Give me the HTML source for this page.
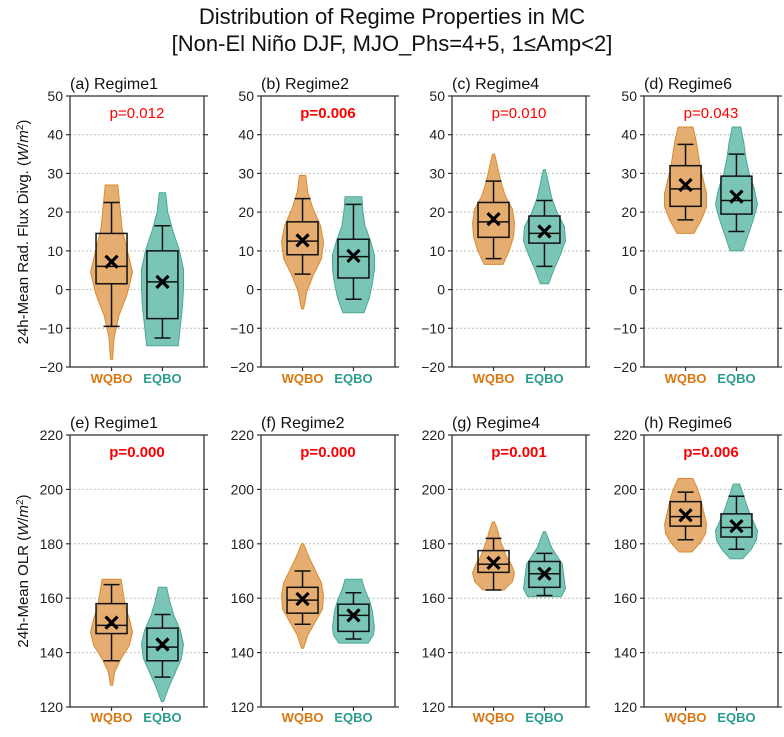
<!DOCTYPE html>
<html><head><meta charset="utf-8"><style>
body{margin:0;background:#fff;}
svg text{font-family:"Liberation Sans","DejaVu Sans",sans-serif;}
</style></head><body>
<svg id="chart" width="784" height="732" xmlns="http://www.w3.org/2000/svg">
<text x="392" y="24" text-anchor="middle" font-size="22" fill="#111">Distribution of Regime Properties in MC</text>
<text x="392" y="51" text-anchor="middle" font-size="22" fill="#111">[Non-El Niño DJF, MJO_Phs=4+5, 1≤Amp&lt;2]</text>
<text transform="translate(28,232) rotate(-90)" text-anchor="middle" font-size="15" fill="#111">24h-Mean Rad. Flux Divg. (<tspan font-style="italic">W</tspan>/<tspan font-style="italic">m</tspan><tspan baseline-shift="super" font-size="10">2</tspan>)</text>
<text transform="translate(28,571) rotate(-90)" text-anchor="middle" font-size="15" fill="#111">24h-Mean OLR (<tspan font-style="italic">W</tspan>/<tspan font-style="italic">m</tspan><tspan baseline-shift="super" font-size="10">2</tspan>)</text>
</svg>
<script>
const panelTitles=["(a) Regime1","(b) Regime2","(c) Regime4","(d) Regime6","(e) Regime1","(f) Regime2","(g) Regime4","(h) Regime6"];
const pValues=["p=0.012","p=0.006","p=0.010","p=0.043","p=0.000","p=0.000","p=0.001","p=0.006"];
const pBold=[false,true,false,false,true,true,true,true];
const groups=["WQBO","EQBO"];
const topTicks=[-20,-10,0,10,20,30,40,50];
const botTicks=[120,140,160,180,200,220];
// [whiskerLow, q1, median, q3, whiskerHigh, mean, violinMin, violinMax]
const wqboStats=[
[-9.5,1.5,6,14.5,22.5,7.2,-18,27],[4,9,12.5,17.5,23.5,12.7,-5,29.5],[8,13.5,17.5,22.5,28,18.2,6.5,35],[18,21.5,26,32,37.5,27,14.5,42],
[137,147,150,158,165,151,128,167],[150.4,154.5,159.3,164,170,159.7,141.6,180],[163,169.5,172.5,177.5,182,173,163,188],[181.5,186.5,190,195.5,199,190.5,177,204]];
const eqboStats=[
[-12.5,-7.5,2,10,16.5,2,-14.5,25],[-2.5,3,8.5,13,22,8.7,-6,24],[6,12,14.5,19,23,15,1.5,31],[15,19.5,23,29.3,35,24,10,42],
[131,137,142,149,154,143,122,164],[145,147.8,153.7,157.8,162,153.7,143.5,167],[161,164,169,173.5,176.5,169,160.5,184.5],[178,182.5,186,191,197.5,186.5,174.5,202]];
// violin density profiles (relative half-width) from min to max
const wqboProfiles=[
[0.05,0.12,0.35,0.75,1.0,0.75,0.5,0.4,0.3],[0.05,0.2,0.5,0.9,1.0,0.85,0.5,0.25,0.15],[0.45,0.75,0.95,1.0,0.9,0.55,0.35,0.2,0.05],[0.4,0.75,1.0,1.0,0.85,0.7,0.6,0.5,0.35],
[0.05,0.15,0.45,0.85,1.0,0.85,0.65,0.55,0.45],[0.05,0.25,0.6,0.95,1.0,0.9,0.6,0.3,0.05],[0.5,0.9,1.0,0.85,0.6,0.45,0.3,0.2,0.05],[0.3,0.7,0.95,1.0,0.9,0.8,0.7,0.55,0.35]];
const eqboProfiles=[
[0.75,0.85,0.95,1.0,1.0,0.8,0.5,0.25,0.15],[0.5,0.75,0.9,1.0,1.0,0.8,0.55,0.45,0.4],[0.2,0.45,0.75,1.0,0.95,0.6,0.35,0.2,0.05],[0.3,0.55,0.8,1.0,0.85,0.6,0.45,0.35,0.2],
[0.05,0.3,0.6,0.9,1.0,0.85,0.55,0.35,0.2],[0.7,0.95,1.0,0.95,0.9,0.8,0.65,0.5,0.4],[0.8,1.0,0.95,0.9,0.85,0.6,0.35,0.2,0.05],[0.3,0.7,0.95,1.0,0.8,0.6,0.45,0.3,0.15]];

const svg=document.getElementById('chart');
const NS='http://www.w3.org/2000/svg';
function mk(tag,attrs,parent){const e=document.createElementNS(NS,tag);for(const k in attrs)e.setAttribute(k,attrs[k]);(parent||svg).appendChild(e);return e;}
const lefts=[70,261,452,644], W=134;
const rows=[{top:96,bot:367,min:-20,max:50,ticks:topTicks,lab:383},{top:435,bot:707,min:120,max:220,ticks:botTicks,lab:722}];
const fills=["#e2a460","#6dbfae"], edges=["#d98b30","#4aa896"], labCol=["#d9770f","#2a9d8a"];
const MAXHW=21;
for(let p=0;p<8;p++){
  const r=rows[Math.floor(p/4)], L=lefts[p%4];
  const y=v=>r.bot-(v-r.min)/(r.max-r.min)*(r.bot-r.top);
  const xpos=i=>L+W*(i===0?0.31:0.69);
  const g=mk('g',{});
  
  
  r.ticks.forEach((t,i)=>{
    if(i>0&&i<r.ticks.length-1){const gl=mk('line',{x1:L,x2:L+W,y1:y(t),y2:y(t),stroke:'#aaa','stroke-width':1,'stroke-dasharray':'1.5,2.5'},g);}
    mk('line',{x1:L-4,x2:L,y1:y(t),y2:y(t),stroke:'#333','stroke-width':1.2},g);
    mk('line',{x1:L+W,x2:L+W+4,y1:y(t),y2:y(t),stroke:'#333','stroke-width':1.2},g);
    const tl=mk('text',{x:L-7,y:y(t)+5,'text-anchor':'end','font-size':14,fill:'#222'},g);tl.textContent=String(t).replace('-','−');
    
  });
  const tt=mk('text',{x:L,y:r.top-7,'font-size':16,fill:'#111'},g);tt.textContent=panelTitles[p];
  
  const pt=mk('text',{x:L+W/2,y:r.top+22,'text-anchor':'middle','font-size':15,fill:'#f00','font-weight':pBold[p]?'bold':'normal'},g);pt.textContent=pValues[p];
  
  [wqboStats[p],eqboStats[p]].forEach((s,i)=>{
    const prof=i===0?wqboProfiles[p]:eqboProfiles[p], cx=xpos(i);
    const n=prof.length, pts=[];
    for(let k=0;k<=64;k++){const f=k/64*(n-1),j=Math.min(n-2,Math.floor(f)),t=f-j;
      const w=(prof[j]*(1-t)+prof[j+1]*t)*MAXHW; const v=s[6]+(s[7]-s[6])*k/64; pts.push([w,y(v)]);}
    let d='M'+pts.map(q=>(cx+q[0]).toFixed(1)+','+q[1].toFixed(1)).join('L')+'L'+pts.slice().reverse().map(q=>(cx-q[0]).toFixed(1)+','+q[1].toFixed(1)).join('L')+'Z';
    const vp=mk('path',{d:d,fill:fills[i],stroke:edges[i],'stroke-width':1,'fill-opacity':0.9},g);
    
    const bx=mk('g',{stroke:'#111','stroke-width':1.5,fill:'none'},g);
    
    mk('rect',{x:cx-15.5,y:y(s[3]),width:31,height:y(s[1])-y(s[3])},bx);
    mk('line',{x1:cx-15.5,x2:cx+15.5,y1:y(s[2]),y2:y(s[2])},bx);
    mk('line',{x1:cx,x2:cx,y1:y(s[3]),y2:y(s[4])},bx);
    mk('line',{x1:cx,x2:cx,y1:y(s[1]),y2:y(s[0])},bx);
    mk('line',{x1:cx-8,x2:cx+8,y1:y(s[4]),y2:y(s[4])},bx);
    mk('line',{x1:cx-8,x2:cx+8,y1:y(s[0]),y2:y(s[0])},bx);
    const my=y(s[5]);
    const mx=mk('path',{d:`M${cx-6},${my-6}L${cx+6},${my+6}M${cx-6},${my+6}L${cx+6},${my-6}`,stroke:'#000','stroke-width':3.2,fill:'none'},g);
    
    mk('line',{x1:cx,x2:cx,y1:r.bot,y2:r.bot+4,stroke:'#333','stroke-width':1.2},g);
    const xl=mk('text',{x:cx,y:r.lab,'text-anchor':'middle','font-size':13,'font-weight':'bold',fill:labCol[i]},g);xl.textContent=groups[i];
    
  });
  const fr=mk('rect',{x:L,y:r.top,width:W,height:r.bot-r.top,fill:'none',stroke:'#333','stroke-width':1.3},g);
  
}
</script>
</body></html>
